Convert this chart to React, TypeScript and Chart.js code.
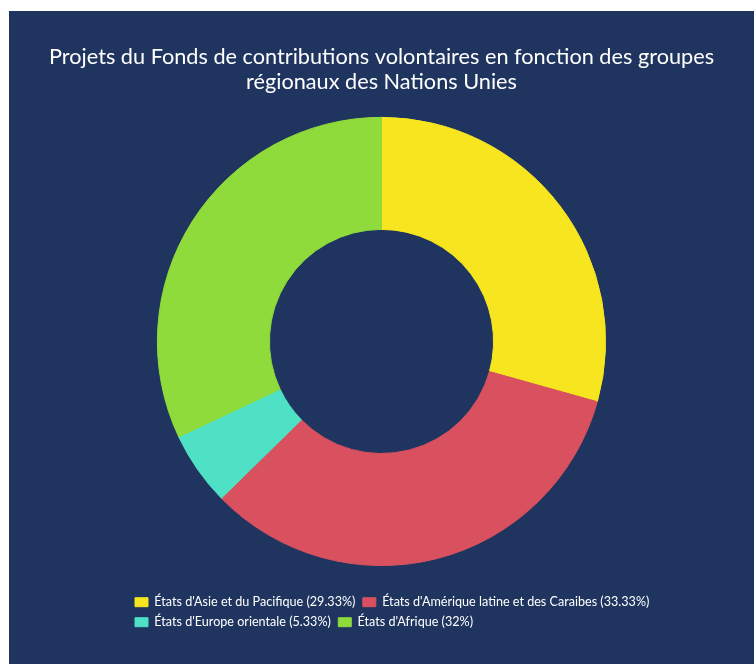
import React, { useEffect, useRef } from "react";
import { Chart, registerables } from "chart.js";

Chart.register(...registerables);

const titleLines = [
  "Projets du Fonds de contributions volontaires en fonction des groupes",
  "régionaux des Nations Unies",
];
const categories = [
  "États d'Asie et du Pacifique",
  "États d'Amérique latine et des Caraibes",
  "États d'Europe orientale",
  "États d'Afrique",
];
const projectCounts = [22, 25, 4, 24];
const percentLabels = ["29.33%", "33.33%", "5.33%", "32%"];
const sliceColors = ["#f6e51f", "#d9515f", "#4fe1c6", "#8edb3b"];

const BG = "#1f355f";
const LEGEND_INSET = 88.6;

// Shift the (left-aligned) legend block so its rows start under the doughnut's left side.
const legendInsetPlugin = {
  id: "legendInset",
  afterLayout(chart: any) {
    const lg = chart.legend;
    if (lg) lg.left += LEGEND_INSET;
  },
};

export default function App() {
  const ref = useRef<HTMLCanvasElement | null>(null);

  useEffect(() => {
    if (!ref.current) return;
    Chart.defaults.font.family = "Lato";
    const chart = new Chart(ref.current, {
      type: "doughnut",
      data: {
        labels: categories.map((c, i) => `${c} (${percentLabels[i]})`),
        datasets: [
          {
            data: projectCounts,
            backgroundColor: sliceColors,
            borderColor: sliceColors,
            borderWidth: 1,
            radius: "90.9%",
          },
        ],
      },
      options: {
        responsive: false,
        animation: false,
        cutout: "50%",
        layout: { padding: { left: 30, right: 30, top: 0, bottom: 25.5 } },
        plugins: {
          tooltip: { enabled: false },
          title: {
            display: true,
            text: titleLines,
            color: "#ffffff",
            font: { family: "Lato", size: 21.7, weight: "normal", lineHeight: 1.15 },
            padding: { top: 33.5, bottom: 0 },
          },
          legend: {
            position: "bottom",
            align: "start",
            labels: {
              color: "#ffffff",
              font: { family: "Lato", size: 12.6 },
              boxWidth: 13,
              boxHeight: 9,
              padding: 7.4,
            },
          },
        },
      },
      plugins: [legendInsetPlugin],
    });
    return () => chart.destroy();
  }, []);

  return (
    <div
      style={{
        position: "absolute",
        left: 9,
        top: 11,
        width: 745,
        height: 653,
        background: BG,
      }}
    >
      <canvas ref={ref} width={745} height={653} style={{ width: 745, height: 653, display: "block" }} />
    </div>
  );
}
